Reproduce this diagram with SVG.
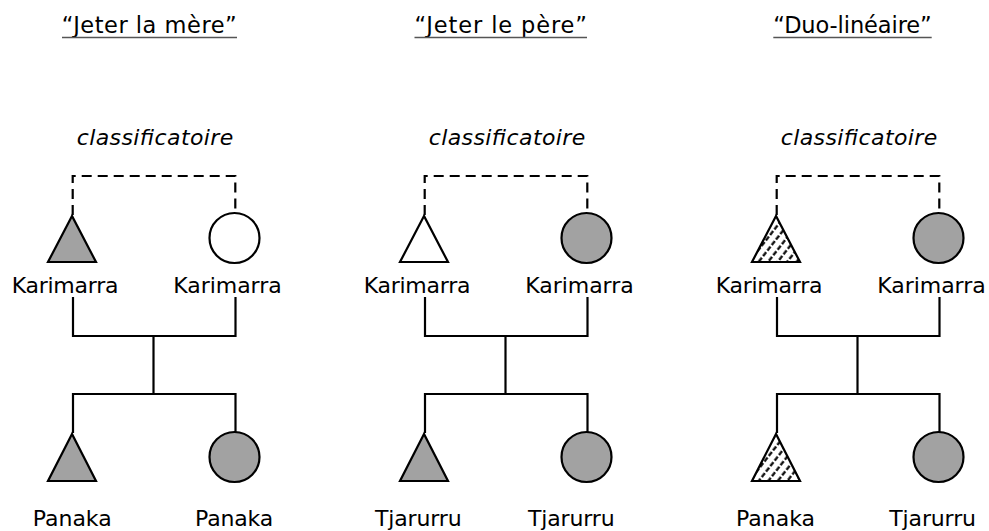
<svg xmlns="http://www.w3.org/2000/svg" width="989" height="531" viewBox="0 0 989 531">
<style>
text{font-family:"DejaVu Sans","Liberation Sans",sans-serif;fill:#000;font-size:22px}
.tt{font-size:22.5px}
.it{font-style:italic}
.ul{stroke:#555;stroke-width:1.5}
.dash{fill:none;stroke:#000;stroke-width:2.2;stroke-dasharray:10 6}
.line{fill:none;stroke:#000;stroke-width:2.2}
.shape{stroke:#000;stroke-width:2.2}
.gray{fill:#a2a2a2}
.white{fill:#fff}
.hatch{fill:url(#hatch)}
</style>
<defs>
<pattern id="hatch" patternUnits="userSpaceOnUse" width="7.5" height="7" patternTransform="rotate(38)">
<rect width="7.5" height="7" fill="#fff"/>
<line x1="1.5" y1="0" x2="1.5" y2="7" stroke="#000" stroke-width="2.2" stroke-dasharray="5 2"/>
</pattern>
</defs>
<rect width="989" height="531" fill="#fff"/>
<!-- Panel 1 -->
<g id="panel1">
<g id="title1"><text class="tt" x="61.7" y="33" textLength="175" lengthAdjust="spacing">“Jeter la mère”</text><line class="ul" x1="62" y1="37.5" x2="237" y2="37.5"/></g>
<g id="class1"><text class="it" x="76.7" y="145" textLength="156.6" lengthAdjust="spacing">classificatoire</text></g>
<g id="connectors1">
<path class="dash" d="M72.7,215 V176 H235.3 V212"/>
<path class="line" d="M73,297 V336 H235.5 V297"/>
<path class="line" d="M153.5,336 V394"/>
<path class="line" d="M73,433 V394 H235.5 V432"/>
</g>
<g id="p1-father"><polygon class="shape gray" points="72,216 48,262 96,262"/><text x="11.7" y="293.3" textLength="106.7" lengthAdjust="spacing">Karimarra</text></g>
<g id="p1-mother"><circle class="shape white" cx="234.5" cy="238" r="25"/><text x="173.3" y="293.3" textLength="108.4" lengthAdjust="spacing">Karimarra</text></g>
<g id="p1-son"><polygon class="shape gray" points="72,434 48,481 96,481"/><text x="32.7" y="526" textLength="79" lengthAdjust="spacing">Panaka</text></g>
<g id="p1-daughter"><circle class="shape gray" cx="234.5" cy="457" r="25"/><text x="195" y="526" textLength="78.3" lengthAdjust="spacing">Panaka</text></g>
</g>
<!-- Panel 2 -->
<g id="panel2">
<g id="title2"><text class="tt" x="414.5" y="33" textLength="172.5" lengthAdjust="spacing">“Jeter le père”</text><line class="ul" x1="414.5" y1="37.5" x2="587" y2="37.5"/></g>
<g id="class2"><text class="it" x="428.7" y="145" textLength="156.6" lengthAdjust="spacing">classificatoire</text></g>
<g id="connectors2">
<path class="dash" d="M424.7,215 V176 H587.3 V212"/>
<path class="line" d="M425,297 V336 H587.5 V297"/>
<path class="line" d="M505.5,336 V394"/>
<path class="line" d="M425,433 V394 H587.5 V432"/>
</g>
<g id="p2-father"><polygon class="shape white" points="424,216 400,262 448,262"/><text x="363.7" y="293.3" textLength="106.7" lengthAdjust="spacing">Karimarra</text></g>
<g id="p2-mother"><circle class="shape gray" cx="586.5" cy="238" r="25"/><text x="525.3" y="293.3" textLength="108.4" lengthAdjust="spacing">Karimarra</text></g>
<g id="p2-son"><polygon class="shape gray" points="424,434 400,481 448,481"/><text x="375" y="526" textLength="86.7" lengthAdjust="spacing">Tjarurru</text></g>
<g id="p2-daughter"><circle class="shape gray" cx="586.5" cy="457" r="25"/><text x="528" y="526" textLength="86.7" lengthAdjust="spacing">Tjarurru</text></g>
</g>
<!-- Panel 3 -->
<g id="panel3">
<g id="title3"><text class="tt" x="773.3" y="33" textLength="158.4" lengthAdjust="spacing">“Duo-linéaire”</text><line class="ul" x1="773.3" y1="37.5" x2="931.7" y2="37.5"/></g>
<g id="class3"><text class="it" x="780.7" y="145" textLength="156.6" lengthAdjust="spacing">classificatoire</text></g>
<g id="connectors3">
<path class="dash" d="M776.7,215 V176 H939.3 V212"/>
<path class="line" d="M777,297 V336 H939.5 V297"/>
<path class="line" d="M857.5,336 V394"/>
<path class="line" d="M777,433 V394 H939.5 V432"/>
</g>
<g id="p3-father"><polygon class="shape hatch" points="776,216 752,262 800,262"/><text x="715.7" y="293.3" textLength="106.7" lengthAdjust="spacing">Karimarra</text></g>
<g id="p3-mother"><circle class="shape gray" cx="938.5" cy="238" r="25"/><text x="877.3" y="293.3" textLength="108.4" lengthAdjust="spacing">Karimarra</text></g>
<g id="p3-son"><polygon class="shape hatch" points="776,434 752,481 800,481"/><text x="736" y="526" textLength="79" lengthAdjust="spacing">Panaka</text></g>
<g id="p3-daughter"><circle class="shape gray" cx="938.5" cy="457" r="25"/><text x="889.3" y="526" textLength="86.7" lengthAdjust="spacing">Tjarurru</text></g>
</g>
</svg>
